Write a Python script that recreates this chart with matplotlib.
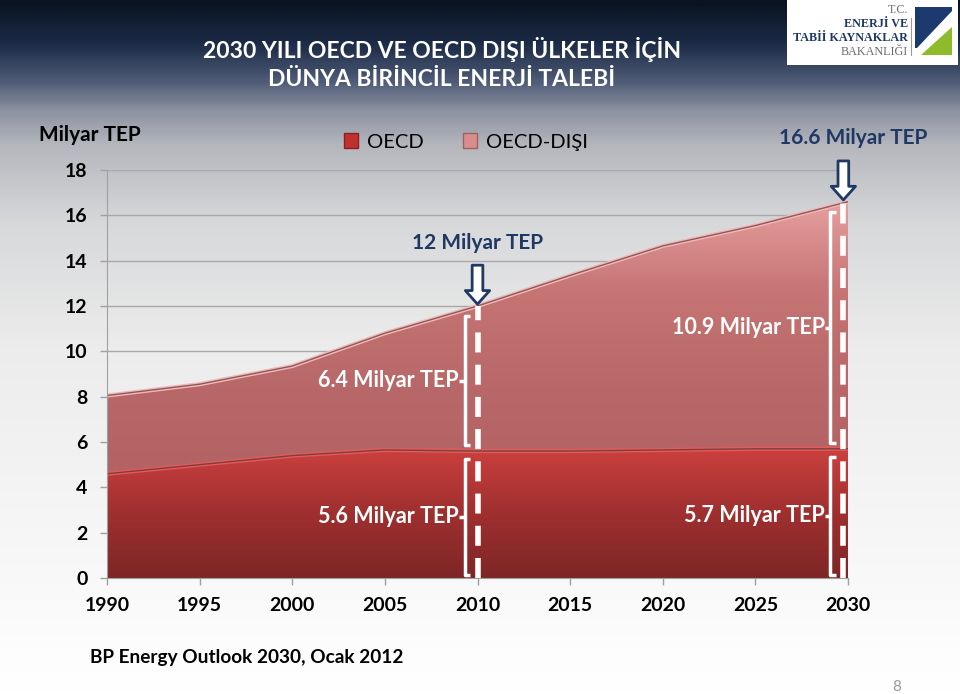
import matplotlib.pyplot as plt
import numpy as np
from matplotlib.colors import LinearSegmentedColormap
from matplotlib.patches import Patch, Polygon, Rectangle

plt.rcParams['font.family'] = ['Lato', 'DejaVu Sans']

# data (Milyar TEP)
years = [1990, 1995, 2000, 2005, 2010, 2015, 2020, 2025, 2030]
oecd = [4.6, 5.0, 5.4, 5.65, 5.6, 5.6, 5.65, 5.7, 5.7]
non_oecd = [3.45, 3.55, 3.95, 5.15, 6.4, 7.75, 9.0, 9.85, 10.9]
y_ticks = [0, 2, 4, 6, 8, 10, 12, 14, 16, 18]
marked_years = [2010, 2030]

total = [a + b for a, b in zip(oecd, non_oecd)]

W, H = 960, 694
fig = plt.figure(figsize=(W / 100, H / 100), dpi=100)


def px(x, y):
    return (x / W, 1 - y / H)


# slide background gradient
bg = fig.add_axes([0, 0, 1, 1], zorder=-5)
bg_cmap = LinearSegmentedColormap.from_list('bg', [
    (0.0, '#0b1322'), (0.06, '#1c2b47'), (0.11, '#4a5773'), (0.16, '#8f95a3'),
    (0.21, '#b6b8be'), (0.32, '#d7d8da'), (0.50, '#ececec'), (1.0, '#ffffff')])
bg.imshow(np.linspace(0, 1, 300).reshape(-1, 1), aspect='auto', cmap=bg_cmap,
          extent=[0, 1, 0, 1], origin='upper')
bg.set_axis_off()

# main chart
ax = fig.add_axes([107 / W, 1 - 578 / H, (848 - 107) / W, (578 - 170) / H])
ax.patch.set_alpha(0)
ax.set_xlim(1990, 2030)
ax.set_ylim(0, 18)
ax.set_yticks(y_ticks)
ax.set_xticks(years)
for y in y_ticks[1:]:
    ax.axhline(y, color='#a8a8a8', lw=1, zorder=0.5)
for s in ['top', 'right']:
    ax.spines[s].set_visible(False)
for s in ['left', 'bottom']:
    ax.spines[s].set_color('#a0a0a0')
    ax.spines[s].set_zorder(6)
ax.tick_params(axis='both', colors='#a0a0a0', length=5, width=1,
               labelcolor='black', labelsize=14)
ax.tick_params(axis='y', pad=9)
ax.tick_params(axis='x', pad=9)
for lab in ax.get_xticklabels() + ax.get_yticklabels():
    lab.set_fontweight('bold')


def gradient_fill(y0, y1, cmap_colors, lo, hi):
    poly = ax.fill_between(years, y0, y1, facecolor='none', edgecolor='none')
    cm = LinearSegmentedColormap.from_list('g', cmap_colors)
    im = ax.imshow(np.linspace(1, 0, 200).reshape(-1, 1), aspect='auto', cmap=cm,
                   extent=[1990, 2030, lo, hi], zorder=2, interpolation='bicubic')
    im.set_clip_path(poly.get_paths()[0], transform=ax.transData)
    ax.set_xlim(1990, 2030)
    ax.set_ylim(0, 18)


gradient_fill(oecd, total, ['#b26262', '#b86868', '#c67474', '#e9a3a3'], 4.0, 17.0)
gradient_fill(0, oecd, ['#7e2626', '#a13030', '#cf4240'], 0, 6.0)
ax.plot(years, total, color='#f2b8b8', lw=3, zorder=3, solid_capstyle='butt')
ax.plot(years, total, color='#8c5a5a', lw=1, zorder=3.1)
ax.plot(years, oecd, color='#e55a58', lw=3, zorder=3, solid_capstyle='butt')
ax.plot(years, oecd, color='#7a4040', lw=1, zorder=3.1)


def bracket(x, y0, y1, label):
    kw = dict(color='white', lw=2.5, zorder=5, solid_capstyle='butt')
    ax.plot([x + 0.3, x, x, x + 0.3], [y0, y0, y1, y1], **kw)
    ym = (y0 + y1) / 2
    ax.plot([x, x - 0.3], [ym, ym], **kw)
    ax.text(x - 0.3, ym, label, ha='right', va='center', color='white',
            fontsize=15.5, fontweight='bold', zorder=5)


navy = '#1f3864'
for yr in marked_years:
    i = years.index(yr)
    xd = min(yr, 2029.75)
    ax.plot([xd, xd], [0, total[i]], color='white', lw=4, zorder=5,
            dashes=(3.6, 2.2))
    bracket(xd - 0.7, oecd[i] + 0.25, total[i] - 0.45,
            f'{non_oecd[i]:.1f} Milyar TEP')
    bracket(xd - 0.7, 0.15, oecd[i] - 0.35, f'{oecd[i]:.1f} Milyar TEP')
    ax.annotate('', xy=(xd, total[i] + 0.08), xytext=(xd, total[i] + 1.8),
                annotation_clip=False,
                arrowprops=dict(arrowstyle='simple,head_length=0.7,head_width=1.25,tail_width=0.55',
                                fc='white', ec=navy, lw=2, mutation_scale=14,
                                shrinkA=0, shrinkB=0), zorder=6)
    ax.text(yr + 0.3 if yr == 2030 else yr, total[i] + 2.8,
            f'{total[i]:g} Milyar TEP', ha='center', va='center', color=navy,
            fontsize=15, fontweight='bold', clip_on=False)

# titles and labels
fig.text(*px(442, 50), '2030 YILI OECD VE OECD DIŞI ÜLKELER İÇİN', ha='center',
         va='center', color='white', fontsize=16.5, fontweight='bold')
fig.text(*px(442, 79), 'DÜNYA BİRİNCİL ENERJİ TALEBİ', ha='center',
         va='center', color='white', fontsize=16.5, fontweight='bold')
fig.text(*px(90, 135), 'Milyar TEP', ha='center', va='center', fontsize=15,
         fontweight='bold')
fig.text(*px(90, 657), 'BP Energy Outlook 2030, Ocak 2012', ha='left', va='center',
         fontsize=13.7, fontweight='bold')
fig.text(*px(897, 687), '8', ha='center', va='center', fontsize=11, color='#999999')

fig.legend(handles=[Patch(fc='#c0302f', ec='#8a2020'), Patch(fc='#d98e8e', ec='#a06060')],
           labels=['OECD', 'OECD-DIŞI'], loc='center', bbox_to_anchor=px(466, 142),
           ncol=2, frameon=False, fontsize=14.5, handlelength=0.7, handleheight=0.7,
           columnspacing=1.9, handletextpad=0.45)

# ministry logo
fig.patches.append(Rectangle(px(787, 65), 171 / W, 65 / H, transform=fig.transFigure,
                             fc='white', ec='none'))
fig.patches.append(Polygon([px(915, 7), px(952, 7), px(952, 11), px(917, 48), px(915, 48)],
                           closed=True, transform=fig.transFigure, fc='#1d3a6e', ec='none'))
fig.patches.append(Polygon([px(921, 55), px(952, 55), px(952, 27)],
                           closed=True, transform=fig.transFigure, fc='#8dbb2a', ec='none'))
fig.lines.append(plt.Line2D([911 / W, 911 / W], [1 - 18 / H, 1 - 55 / H],
                            transform=fig.transFigure, color='#999999', lw=0.8))
logo_lines = [('T.C.', 10, '#6b6b6b'), ('ENERJİ VE', 24, navy),
              ('TABİİ KAYNAKLAR', 38, navy), ('BAKANLIĞI', 52, '#6b6b6b')]
for txt, yy, col in logo_lines:
    fig.text(*px(908, yy), txt, ha='right', va='center', fontsize=8.7, color=col,
             family='Liberation Serif', fontweight='bold' if col == navy else 'normal')

fig.savefig('out.png', dpi=100)
